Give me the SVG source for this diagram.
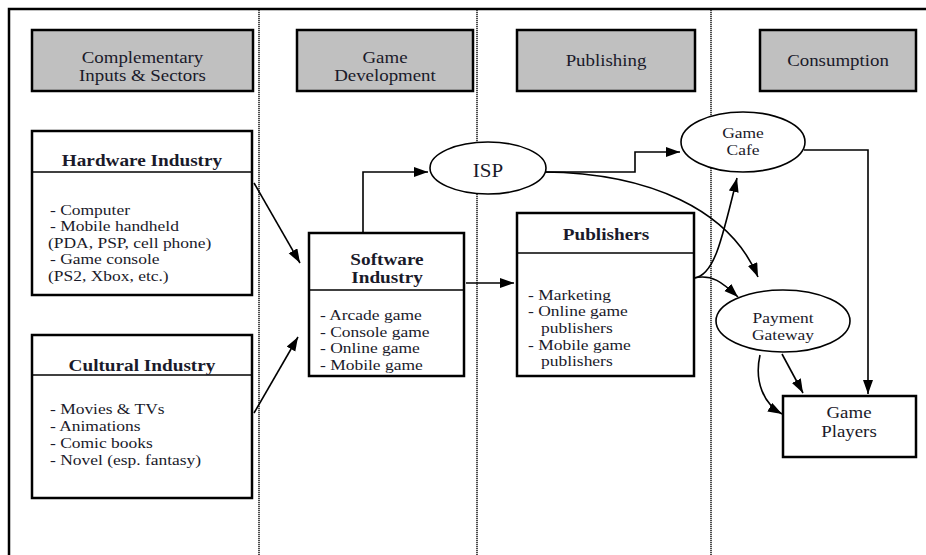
<svg xmlns="http://www.w3.org/2000/svg" width="926" height="555" viewBox="0 0 926 555">
<defs>
<marker id="ah" markerUnits="userSpaceOnUse" markerWidth="16" markerHeight="12" refX="14" refY="5" orient="auto"><path d="M0,0 L14,5 L0,10 z" fill="#000"/></marker>
<style>
.t{font-family:"Liberation Serif",serif;fill:#1a1a2a}
.h{font-size:16px;text-anchor:middle}
.b{font-size:16.3px;font-weight:bold;text-anchor:middle}
.l{font-size:14.8px}
.e{font-size:14.8px;text-anchor:middle}
.hdr{fill:#c0c0c0;stroke:#000;stroke-width:2.5}
.box{fill:#fff;stroke:#000;stroke-width:2.5}
.ell{fill:#fff;stroke:#000;stroke-width:1.6}
.div{stroke:#000;stroke-width:1.6}
.dot{stroke:#222;stroke-width:1.6;stroke-dasharray:1.2 0.8;fill:none}
.c{fill:none;stroke:#000;stroke-width:1.6}
</style>
</defs>
<rect width="926" height="555" fill="#fff"/>
<g id="frame">
<path d="M9,555 V9 H926" fill="none" stroke="#000" stroke-width="2.5"/>
<line class="dot" x1="259" y1="10" x2="259" y2="555"/>
<line class="dot" x1="477" y1="10" x2="477" y2="555"/>
<line class="dot" x1="711" y1="10" x2="711" y2="555"/>
</g>
<g id="hdr-complementary"><rect class="hdr" x="32" y="30" width="221" height="61"/><g transform="scale(1.18 1)"><text class="t h" x="120.76" y="63">Complementary</text><text class="t h" x="120.76" y="81">Inputs &amp; Sectors</text></g></g>
<g id="hdr-development"><rect class="hdr" x="297" y="30" width="176" height="61"/><g transform="scale(1.18 1)"><text class="t h" x="326.27" y="63">Game</text><text class="t h" x="326.27" y="81">Development</text></g></g>
<g id="hdr-publishing"><rect class="hdr" x="517" y="30" width="178" height="61"/><g transform="scale(1.18 1)"><text class="t h" x="513.56" y="66">Publishing</text></g></g>
<g id="hdr-consumption"><rect class="hdr" x="760" y="30" width="156" height="61"/><g transform="scale(1.18 1)"><text class="t h" x="710.17" y="66">Consumption</text></g></g>
<g id="connectors">
<line class="c" x1="254" y1="183" x2="300" y2="263" marker-end="url(#ah)"/>
<line class="c" x1="254" y1="413" x2="298" y2="337" marker-end="url(#ah)"/>
<path class="c" d="M363,233 V172 H428" marker-end="url(#ah)"/>
<line class="c" x1="466" y1="283" x2="514" y2="283" marker-end="url(#ah)"/>
<path class="c" d="M544,172 H635 V152 H680" marker-end="url(#ah)"/>
<path class="c" d="M544,172 C650,173 730,210 758,277" marker-end="url(#ah)"/>
<path class="c" d="M694,278 C714,276 722,240 737,178" marker-end="url(#ah)"/>
<path class="c" d="M694,278 C712,274 722,282 738,297" marker-end="url(#ah)"/>
<path class="c" d="M804,150 H868 V394" marker-end="url(#ah)"/>
<line class="c" x1="782" y1="354" x2="803" y2="393" marker-end="url(#ah)"/>
<path class="c" d="M760,355 C754,382 764,404 782,414" marker-end="url(#ah)"/>
</g>
<g id="hardware"><rect class="box" x="32" y="131" width="220" height="164"/><line class="div" x1="32" y1="172" x2="252" y2="172"/>
<g transform="scale(1.18 1)"><text class="t b" x="120.34" y="166">Hardware Industry</text>
<text class="t l" x="42.37" y="215">- Computer</text><text class="t l" x="42.37" y="231.5">- Mobile handheld</text><text class="t l" x="40.68" y="248">(PDA, PSP, cell phone)</text><text class="t l" x="42.37" y="264.5">- Game console</text><text class="t l" x="40.68" y="281">(PS2, Xbox, etc.)</text></g></g>
<g id="cultural"><rect class="box" x="32" y="335" width="220" height="163"/><line class="div" x1="32" y1="375" x2="252" y2="375"/>
<g transform="scale(1.18 1)"><text class="t b" x="120.34" y="371">Cultural Industry</text>
<text class="t l" x="42.37" y="414">- Movies &amp; TVs</text><text class="t l" x="42.37" y="431">- Animations</text><text class="t l" x="42.37" y="448">- Comic books</text><text class="t l" x="42.37" y="465">- Novel (esp. fantasy)</text></g></g>
<g id="software"><rect class="box" x="309" y="233" width="155" height="143"/><line class="div" x1="309" y1="290" x2="464" y2="290"/>
<g transform="scale(1.18 1)"><text class="t b" x="327.97" y="265">Software</text><text class="t b" x="327.97" y="283">Industry</text>
<text class="t l" x="271.19" y="320">- Arcade game</text><text class="t l" x="271.19" y="337">- Console game</text><text class="t l" x="271.19" y="353">- Online game</text><text class="t l" x="271.19" y="370">- Mobile game</text></g></g>
<g id="isp"><ellipse class="ell" cx="488" cy="168" rx="58" ry="26"/><g transform="scale(1.18 1)"><text class="t" x="413.56" y="177" font-size="17.8" text-anchor="middle">ISP</text></g></g>
<g id="publishers"><rect class="box" x="517" y="213" width="177" height="163"/><line class="div" x1="517" y1="253" x2="694" y2="253"/>
<g transform="scale(1.18 1)"><text class="t b" x="513.56" y="240">Publishers</text>
<text class="t l" x="447.46" y="300">- Marketing</text><text class="t l" x="447.46" y="316.5">- Online game</text><text class="t l" x="458.47" y="333">publishers</text><text class="t l" x="447.46" y="350">- Mobile game</text><text class="t l" x="458.47" y="366.5">publishers</text></g></g>
<g id="gamecafe"><ellipse class="ell" cx="743" cy="142" rx="62" ry="30"/><g transform="scale(1.18 1)"><text class="t e" x="629.66" y="138">Game</text><text class="t e" x="629.66" y="155">Cafe</text></g></g>
<g id="payment"><ellipse class="ell" cx="783" cy="321" rx="67" ry="31"/><g transform="scale(1.18 1)"><text class="t e" x="663.56" y="323">Payment</text><text class="t e" x="663.56" y="340">Gateway</text></g></g>
<g id="players"><rect class="box" x="783" y="396" width="133" height="61"/><g transform="scale(1.18 1)"><text class="t h" x="719.49" y="418">Game</text><text class="t h" x="719.49" y="437">Players</text></g></g>
</svg>
